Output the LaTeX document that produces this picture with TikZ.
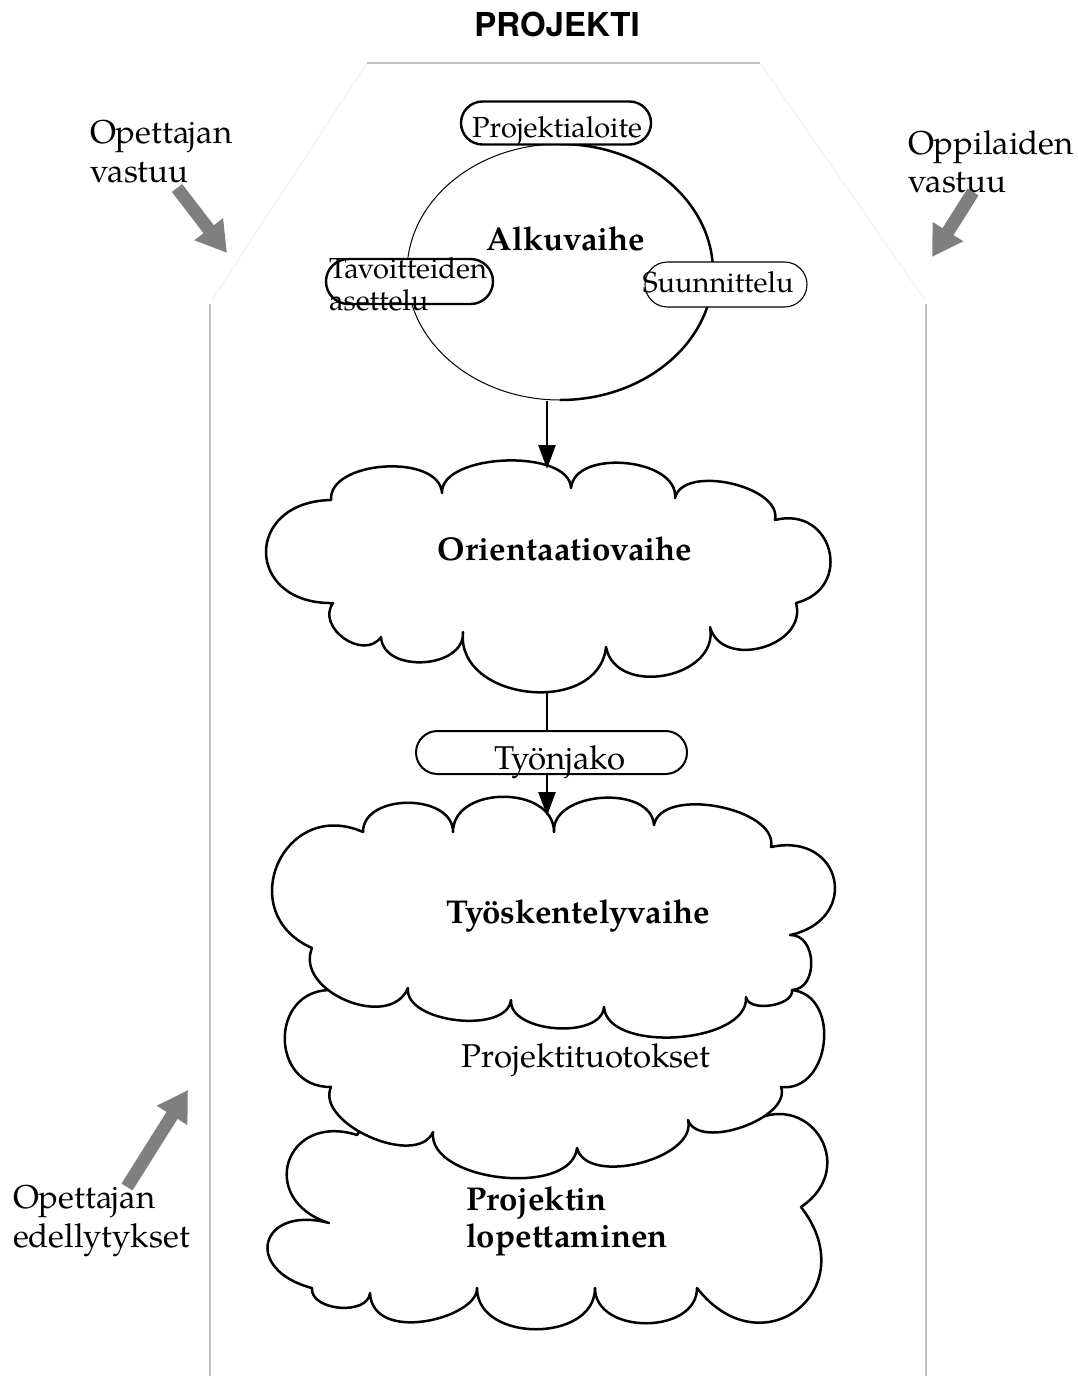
\documentclass[tikz,border=0pt]{standalone}
\usepackage{fontspec}
\setmainfont{texgyrepagella}[Extension=.otf, UprightFont=*-regular, BoldFont=*-bold, ItalicFont=*-italic, BoldItalicFont=*-bolditalic]
\newfontfamily\titlefont{TeX Gyre Heros}
\usetikzlibrary{calc,arrows.meta,shapes.misc,shapes.geometric}
\definecolor{arrowgray}{RGB}{127,127,127}

\begin{document}
\begin{tikzpicture}[x=1pt,y=-1pt,
  every node/.style={inner sep=0pt, outer sep=0pt},
  % one scallop of a cloud: from #1 to #2, bulging outwards (clockwise path)
  lb/.style n args={4}{insert path={.. controls ($(#1)!#3pt!90:(#2)$) and ($(#2)!#4pt!-90:(#1)$) .. (#2)}},
  cloudline/.style={draw=black, line width=2.5pt, fill=white, line join=round},
  outline/.style={draw=black!24, line width=1.2pt},
  faintline/.style={draw=black!6, line width=1pt},
  pill/.style={rounded rectangle, draw=black, fill=white, line width=2.4pt},
  thinpill/.style={rounded rectangle, draw=black, fill=white, line width=1.1pt},
  flow/.style={line width=2.5pt, -{Triangle[length=24pt,width=17pt]}},
  stem/.style={line width=2.5pt},
  blockarrow/.style={draw=arrowgray, line width=13pt, -{Triangle[length=30pt,width=34pt]}},
  txtreg/.style={font=\fontsize{33}{39}\selectfont},
  txtbold/.style={font=\fontsize{33}{39}\selectfont\bfseries},
  txtsmall/.style={font=\fontsize{29}{32}\selectfont},
]
\useasboundingbox (0,0) rectangle (1077,1376);

% ---- title ----
\node[anchor=base, font=\titlefont\bfseries\fontsize{33}{38}\selectfont] (title) at (557,36) {PROJEKTI};

% ---- house-shaped frame ----
\coordinate (h1) at (367,63);
\coordinate (h2) at (760,63);
\coordinate (h3) at (212,300);
\coordinate (h4) at (925,300);
\coordinate (h5) at (210,304);
\coordinate (h6) at (926,304);
\coordinate (h7) at (210,1376);
\coordinate (h8) at (926,1376);
\draw[outline] (h1) -- (h2);
\draw[faintline] (h1) -- (h3);
\draw[faintline] (h2) -- (h4);
\draw[outline] (h5) -- (h7);
\draw[outline] (h6) -- (h8);

% ---- start phase ----
\node[ellipse, minimum width=306, minimum height=256] (alku) at (560,272) {};
\draw[line width=1pt] (alku.north) arc[start angle=-90, end angle=-270, x radius=153, y radius=128];
\draw[line width=2.5pt] (alku.north) arc[start angle=-90, end angle=90, x radius=153, y radius=128];

\node[pill, minimum width=190, minimum height=43] (aloite) at (556,123) {};
\node[pill, minimum width=167, minimum height=45] (tavoite) at (409.5,281.5) {};
\node[thinpill, minimum width=162, minimum height=45] (suunn) at (726,284.5) {};

\node[txtbold, anchor=base] (alkut) at (566,250) {Alkuvaihe};
\node[txtsmall, anchor=base] (aloitet) at (557,137) {Projektialoite};
\node[txtsmall, anchor=base west] (tav1) at (329,278) {Tavoitteiden};
\node[txtsmall, anchor=base west] (tav2) at (329,310) {asettelu};
\node[txtsmall, anchor=base] (suunnt) at (718,292) {Suunnittelu};

% ---- side labels ----
\node[txtreg, anchor=base west] (ov1) at (90,143) {Opettajan};
\node[txtreg, anchor=base west] (ov2) at (90,182) {vastuu};
\node[txtreg, anchor=base west] (pv1) at (908,154) {Oppilaiden};
\node[txtreg, anchor=base west] (pv2) at (908,192) {vastuu};
\node[txtreg, anchor=base west] (oe1) at (13,1208) {Opettajan};
\node[txtreg, anchor=base west] (oe2) at (13,1247) {edellytykset};

% ---- closing phase (lowest cloud) ----
\coordinate (e1) at (746,1125);
\coordinate (e2) at (801,1207);
\coordinate (e3) at (697,1288);
\coordinate (e4) at (595,1288);
\coordinate (e5) at (477,1288);
\coordinate (e6) at (370,1293);
\coordinate (e7) at (312,1288);
\coordinate (e8) at (329,1223);
\coordinate (e9) at (357,1135);
\path[cloudline] (e9) -- (375,1108) -- (735,1103) -- (e1)
  [lb={e1}{e2}{73}{73}] [lb={e2}{e3}{105}{105}] [lb={e3}{e4}{47}{47}]
  [lb={e4}{e5}{55}{55}] [lb={e5}{e6}{30}{52}] [lb={e6}{e7}{23}{23}]
  [lb={e7}{e8}{72}{72}] [lb={e8}{e9}{76}{76}] -- cycle;

% ---- products cloud ----
\coordinate (p1) at (792,990);
\coordinate (p2) at (781,1087);
\coordinate (p3) at (688,1120);
\coordinate (p4) at (577,1148);
\coordinate (p5) at (433,1132);
\coordinate (p6) at (331,1087);
\coordinate (p7) at (330,990);
\path[cloudline] (p7) -- (345,968) -- (775,968) -- (p1)
  [lb={p1}{p2}{50}{50}] [lb={p2}{p3}{33}{33}] [lb={p3}{p4}{40}{40}]
  [lb={p4}{p5}{50}{50}] [lb={p5}{p6}{40}{40}] [lb={p6}{p7}{61}{61}] -- cycle;

% ---- working phase cloud ----
\coordinate (w1) at (363,832);
\coordinate (w2) at (453,832);
\coordinate (w3) at (554,832);
\coordinate (w4) at (654,825);
\coordinate (w5) at (771,847);
\coordinate (w6) at (790,935);
\coordinate (w7) at (792,990);
\coordinate (w8) at (746,997);
\coordinate (w9) at (604,1007);
\coordinate (w10) at (511,1000);
\coordinate (w11) at (408,988);
\coordinate (w12) at (312,948);
\path[cloudline] (w1)
  [lb={w1}{w2}{39}{39}] [lb={w2}{w3}{47}{47}] [lb={w3}{w4}{41}{41}]
  [lb={w4}{w5}{40}{40}] [lb={w5}{w6}{73}{73}] [lb={w6}{w7}{27}{27}]
  [lb={w7}{w8}{16}{16}] [lb={w8}{w9}{47}{47}] [lb={w9}{w10}{33}{33}]
  [lb={w10}{w11}{35}{35}] [lb={w11}{w12}{47}{47}] [lb={w12}{w1}{87}{87}] -- cycle;

% ---- orientation phase cloud ----
\coordinate (o1) at (331,500);
\coordinate (o2) at (442,493);
\coordinate (o3) at (571,488);
\coordinate (o4) at (675,498);
\coordinate (o5) at (775,520);
\coordinate (o6) at (796,603);
\coordinate (o7) at (710,627);
\coordinate (o8) at (606,647);
\coordinate (o9) at (463,632);
\coordinate (o10) at (381,637);
\coordinate (o11) at (333,603);
\path[cloudline] (o1)
  [lb={o1}{o2}{40}{40}] [lb={o2}{o3}{40}{40}] [lb={o3}{o4}{40}{40}]
  [lb={o4}{o5}{35}{35}] [lb={o5}{o6}{60}{60}] [lb={o6}{o7}{45}{45}]
  [lb={o7}{o8}{52}{52}] [lb={o8}{o9}{70}{70}] [lb={o9}{o10}{37}{37}]
  [lb={o10}{o11}{30}{30}] [lb={o11}{o1}{88}{88}] -- cycle;

\node[txtbold, anchor=base] (ort) at (565,560) {Orientaatiovaihe};
\node[txtbold, anchor=base] (tsk) at (578,923) {Työskentelyvaihe};
\node[txtreg, anchor=base] (ptu) at (586,1067) {Projektituotokset};
\node[txtbold, anchor=base west] (pl1) at (466,1210) {Projektin};
\node[txtbold, anchor=base west] (pl2) at (466,1247) {lopettaminen};

% ---- division of work ----
\node[pill, line width=2pt, minimum width=271, minimum height=43] (jako) at (551.5,752.5) {};
\node[font=\fontsize{33}{38}\selectfont, anchor=base] (jakot) at (560,769) {Työnjako};

% ---- flow connectors ----
\coordinate (alkuout) at (547,401);
\coordinate (orin) at (547,469);
\coordinate (orout) at (547,693);
\coordinate (jakoin) at (547,731);
\coordinate (jakoout) at (547,774);
\coordinate (tskin) at (547,816);
\draw[flow] (alkuout) -- (orin);
\draw[stem] (orout) -- (jakoin);
\draw[flow] (jakoout) -- (tskin);

% ---- grey influence arrows ----
\coordinate (ga1s) at (177,188);
\coordinate (ga1e) at (227,253);
\coordinate (ga2s) at (973,192);
\coordinate (ga2e) at (932,257);
\coordinate (ga3s) at (127,1187);
\coordinate (ga3e) at (188,1090);
\draw[blockarrow] (ga1s) -- (ga1e);
\draw[blockarrow] (ga2s) -- (ga2e);
\draw[blockarrow] (ga3s) -- (ga3e);
\end{tikzpicture}
\end{document}
